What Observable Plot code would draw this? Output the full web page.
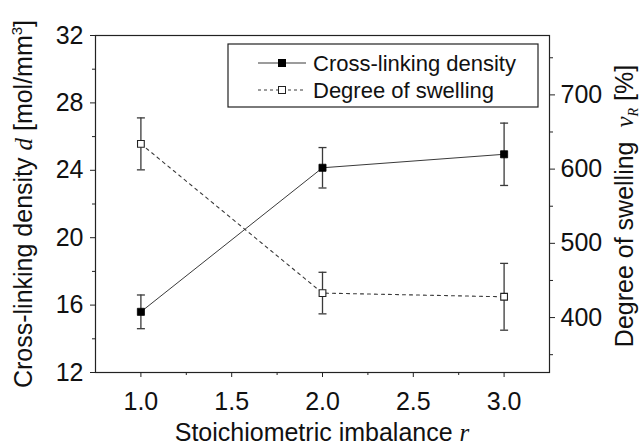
<!DOCTYPE html>
<html><head><meta charset="utf-8">
<script src="https://cdn.jsdelivr.net/npm/d3@7"></script>
<script src="https://cdn.jsdelivr.net/npm/@observablehq/plot@0.6"></script>
<style>html,body{margin:0;background:#fff} svg{display:block}</style>
</head><body><div id="chart"></div>
<script>
// ---- data ----
const ratio = [1.0, 2.0, 3.0];
const crosslinkDensity = [15.6, 24.15, 24.95];
const crosslinkError = [1.0, 1.2, 1.85];
const swelling = [634, 433, 428];
const swellingError = [35, 28, 45];

const xTicks = [1.0, 1.5, 2.0, 2.5, 3.0];
const xMinorTicks = [1.25, 1.75, 2.25, 2.75];
const leftTicks = [12, 16, 20, 24, 28, 32];
const leftMinorTicks = [14, 18, 22, 26, 30];
const rightTicks = [400, 500, 600, 700];
const rightMinorTicks = [350, 450, 550, 650, 750];
const xDomain = [0.75, 3.25];
const leftDomain = [12, 32];
const rightDomain = [326, 780];

const seriesNames = ["Cross-linking density", "Degree of swelling"];

// map right-axis values onto the left (primary) y scale
const toLeft = d3.scaleLinear(rightDomain, leftDomain);

const cross = ratio.map((r, i) => ({
  r, v: crosslinkDensity[i],
  lo: crosslinkDensity[i] - crosslinkError[i],
  hi: crosslinkDensity[i] + crosslinkError[i]
}));
const swell = ratio.map((r, i) => ({
  r, v: toLeft(swelling[i]),
  lo: toLeft(swelling[i] - swellingError[i]),
  hi: toLeft(swelling[i] + swellingError[i])
}));
const caps = [...cross, ...swell].flatMap(d => [{r: d.r, y: d.lo}, {r: d.r, y: d.hi}]);

const capSymbol = {draw(ctx) { ctx.moveTo(-4, 0); ctx.lineTo(4, 0); }};

const ink = "#222";
const lineInk = "#3a3a3a";

const plot = Plot.plot({
  width: 643,
  height: 446,
  marginLeft: 95,
  marginRight: 94,
  marginTop: 35,
  marginBottom: 74,
  style: {fontFamily: "'Liberation Sans', Arial, sans-serif", fontSize: "25px", color: "#111", background: "#fff"},
  x: {domain: xDomain, label: null},
  y: {domain: leftDomain, label: null},
  marks: [
    Plot.frame({stroke: ink, strokeWidth: 1.2}),
    Plot.axisX(xTicks, {tickSize: 5, tickPadding: 15, tickFormat: d3.format(".1f"), stroke: ink, label: null}),
    Plot.axisX(xMinorTicks, {tickSize: 3, tickFormat: () => "", stroke: ink, label: null}),
    Plot.axisY(leftTicks, {anchor: "left", tickSize: 5, tickPadding: 7, stroke: ink, label: null}),
    Plot.axisY(leftMinorTicks, {anchor: "left", tickSize: 3, tickFormat: () => "", stroke: ink, label: null}),
    Plot.axisY(rightTicks.map(toLeft), {anchor: "right", tickSize: 5, tickPadding: 6, stroke: ink, label: null,
      tickFormat: d => String(Math.round(toLeft.invert(d)))}),
    Plot.axisY(rightMinorTicks.map(toLeft), {anchor: "right", tickSize: 3, tickFormat: () => "", stroke: ink, label: null}),
    // error bars
    Plot.ruleX(cross, {x: "r", y1: "lo", y2: "hi", stroke: lineInk, strokeWidth: 1.3}),
    Plot.ruleX(swell, {x: "r", y1: "lo", y2: "hi", stroke: lineInk, strokeWidth: 1.3}),
    Plot.dot(caps, {x: "r", y: "y", symbol: capSymbol, stroke: lineInk, strokeWidth: 1.3, fill: "none"}),
    // lines
    Plot.line(cross, {x: "r", y: "v", stroke: lineInk, strokeWidth: 1}),
    Plot.line(swell, {x: "r", y: "v", stroke: lineInk, strokeWidth: 1.1, strokeDasharray: "3,4"}),
    // markers
    Plot.dot(cross, {x: "r", y: "v", symbol: "square", r: 4, fill: "#000", stroke: "#000", strokeWidth: 0.8}),
    Plot.dot(swell, {x: "r", y: "v", symbol: "square", r: 3.8, fill: "#fff", stroke: "#222", strokeWidth: 1.1})
  ]
});

document.getElementById("chart").appendChild(plot);

// ---- titles and legend (post-processing with d3) ----
const svg = d3.select(plot);
const sansF = "'Liberation Sans', Arial, sans-serif";
const serifF = "'Liberation Serif', 'Times New Roman', serif";

// x title
const xt = svg.append("text").attr("x", 322).attr("y", 441).attr("text-anchor", "middle")
  .attr("font-family", sansF).attr("font-size", 25).attr("fill", "#111");
xt.append("tspan").text("Stoichiometric imbalance ");
xt.append("tspan").attr("font-family", serifF).attr("font-style", "italic").text("r");

// left title
const lt = svg.append("text").attr("transform", "translate(32,204) rotate(-90)").attr("text-anchor", "middle")
  .attr("font-family", sansF).attr("font-size", 25).attr("fill", "#111");
lt.append("tspan").text("Cross-linking density ");
lt.append("tspan").attr("font-family", serifF).attr("font-style", "italic").text("d");
lt.append("tspan").text(" [mol/mm");
lt.append("tspan").attr("font-size", 15).attr("dy", -10).text("3");
lt.append("tspan").attr("dy", 10).text("]");

// right title
const rt = svg.append("text").attr("transform", "translate(633,206) rotate(-90)").attr("text-anchor", "middle")
  .attr("font-family", sansF).attr("font-size", 25).attr("fill", "#111");
rt.append("tspan").text("Degree of swelling  ");
rt.append("tspan").attr("font-family", serifF).attr("font-style", "italic").text("ν");
rt.append("tspan").attr("font-family", serifF).attr("font-style", "italic").attr("font-size", 14).attr("dy", 5).text("R");
rt.append("tspan").attr("dy", -5).text(" [%]");

// legend
const lg = svg.append("g");
lg.append("rect").attr("x", 228).attr("y", 44).attr("width", 310).attr("height", 63)
  .attr("fill", "#fff").attr("stroke", ink).attr("stroke-width", 1.2);
const rows = [
  {y: 63, dash: null, fill: "#000"},
  {y: 90, dash: "3,3", fill: "#fff"}
];
rows.forEach((row, i) => {
  lg.append("line").attr("x1", 258).attr("x2", 306).attr("y1", row.y).attr("y2", row.y)
    .attr("stroke", lineInk).attr("stroke-width", 1.1).attr("stroke-dasharray", row.dash);
  lg.append("rect").attr("x", 278.5).attr("y", row.y - 3.5).attr("width", 7).attr("height", 7)
    .attr("fill", row.fill).attr("stroke", i === 0 ? "#000" : "#222").attr("stroke-width", 1);
  lg.append("text").attr("x", 313).attr("y", row.y + 8).attr("text-anchor", "start")
    .attr("font-family", sansF).attr("font-size", 22)
    .attr("fill", "#111").text(seriesNames[i]);
});
</script>
</body></html>
